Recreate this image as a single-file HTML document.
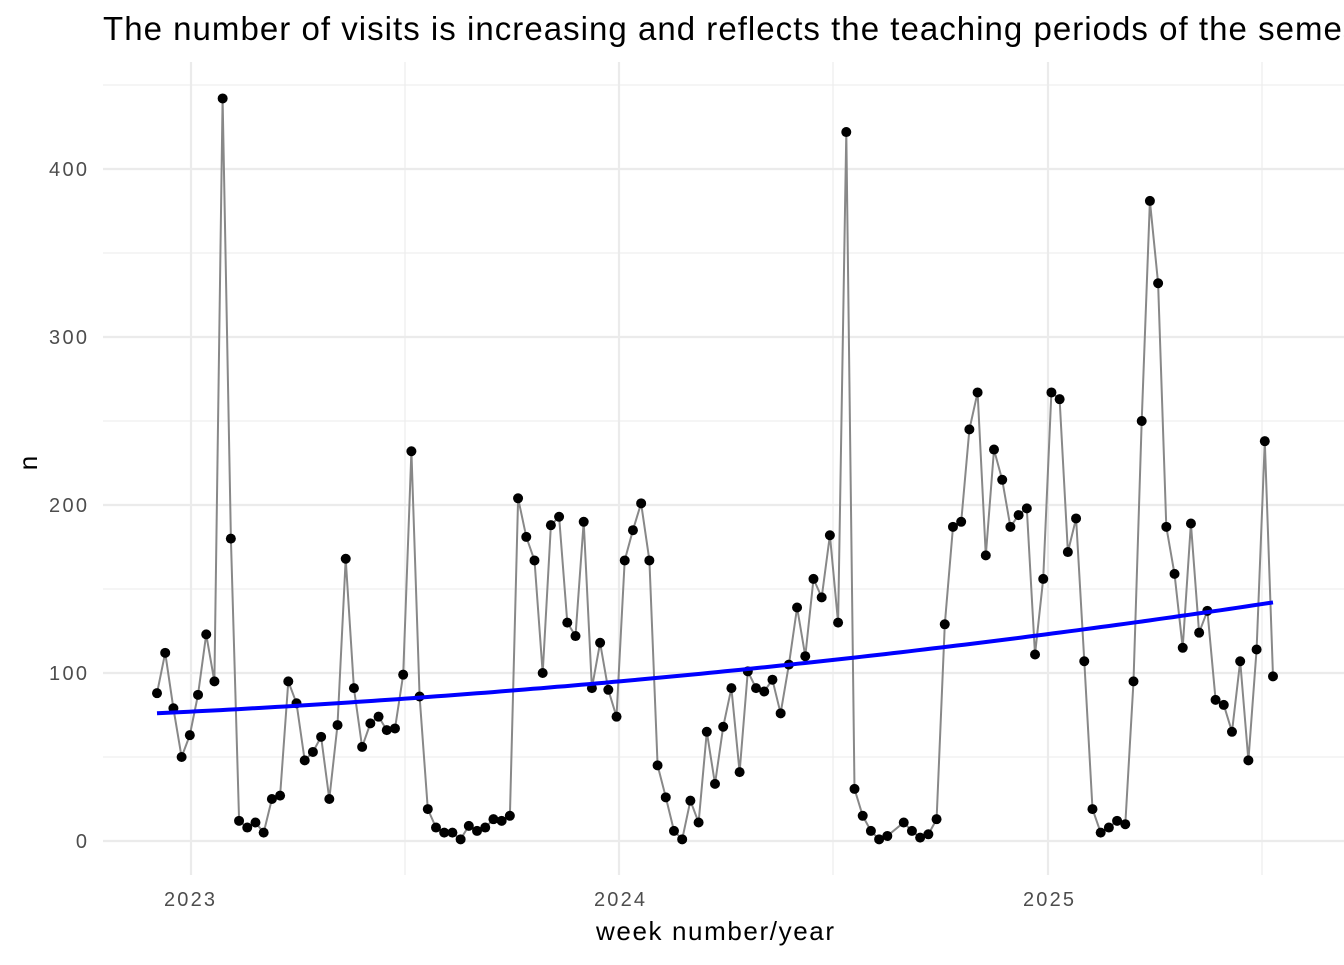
<!DOCTYPE html>
<html><head><meta charset="utf-8"><style>
body{margin:0;background:#fff;width:1344px;height:960px;overflow:hidden}
</style></head><body>
<svg id="s" width="1344" height="960" xmlns="http://www.w3.org/2000/svg" font-family="Liberation Sans, sans-serif">
<rect width="1344" height="960" fill="#fff"/>
<g id="grid"></g>
<g id="data"></g>
<text x="103" y="40" font-size="33" fill="#000" textLength="1298" lengthAdjust="spacing">The number of visits is increasing and reflects the teaching periods of the semester</text>
<g font-size="20" fill="#4d4d4d" text-anchor="end">
<text x="87" y="848">0</text><text x="87" y="680" textLength="38">100</text><text x="87" y="512" textLength="38">200</text><text x="87" y="344" textLength="38">300</text><text x="87" y="176" textLength="38">400</text>
</g>
<g font-size="20" fill="#4d4d4d">
<text x="164" y="906" textLength="51">2023</text><text x="594" y="906" textLength="51">2024</text><text x="1023" y="906" textLength="51">2025</text>
</g>
<text x="596" y="940" font-size="26" textLength="238">week number/year</text>
<text x="37" y="463" font-size="26" text-anchor="middle" transform="rotate(-90 37 463)">n</text>
</svg>
<script>
var ns="http://www.w3.org/2000/svg";
function el(p,t,a){var e=document.createElementNS(ns,t);for(var k in a)e.setAttribute(k,a[k]);p.appendChild(e);return e;}
var g=document.getElementById("grid");
[85,253,421,589,757].forEach(function(y){el(g,"line",{x1:103,x2:1344,y1:y,y2:y,stroke:"#ebebeb","stroke-width":1.1});});
[405,833,1262].forEach(function(x){el(g,"line",{x1:x,x2:x,y1:62,y2:875,stroke:"#ebebeb","stroke-width":1.1});});
[169,337,505,673,841].forEach(function(y){el(g,"line",{x1:103,x2:1344,y1:y,y2:y,stroke:"#ebebeb","stroke-width":2.2});});
[191,619,1048].forEach(function(x){el(g,"line",{x1:x,x2:x,y1:62,y2:875,stroke:"#ebebeb","stroke-width":2.2});});
var v=[88,112,79,50,63,87,123,95,442,180,12,8,11,5,25,27,95,82,48,53,62,25,69,168,91,56,70,74,66,67,99,232,86,19,8,5,5,1,9,6,8,13,12,15,204,181,167,100,188,193,130,122,190,91,118,90,74,167,185,201,167,45,26,6,1,24,11,65,34,68,91,41,101,91,89,96,76,105,139,110,156,145,182,130,422,31,15,6,1,3,null,11,6,2,4,13,129,187,190,245,267,170,233,215,187,194,198,111,156,267,263,172,192,107,19,5,8,12,10,95,250,381,332,187,159,115,189,124,137,84,81,65,107,48,114,238,98];
var n=v.length,d=document.getElementById("data");
function X(i){return 157+i*1116/(n-1);}function Y(a){return 841-a*1.68;}
var pts=[];v.forEach(function(a,i){if(a!==null)pts.push(X(i).toFixed(1)+","+Y(a).toFixed(1));});
el(d,"polyline",{points:pts.join(" "),fill:"none",stroke:"#888","stroke-width":2});
v.forEach(function(a,i){if(a!==null)el(d,"circle",{cx:X(i),cy:Y(a),r:5,fill:"#000"});});
var x0=157,x1=619,x2=1273,y0=76,y1=95,y2=142;
function T(x){return y0*(x-x1)*(x-x2)/((x0-x1)*(x0-x2))+y1*(x-x0)*(x-x2)/((x1-x0)*(x1-x2))+y2*(x-x0)*(x-x1)/((x2-x0)*(x2-x1));}
var tp=[];for(var x=157;x<=1273;x+=8)tp.push(x+","+Y(T(x)).toFixed(1));tp.push("1273,"+Y(142));
el(d,"polyline",{points:tp.join(" "),fill:"none",stroke:"#0000ff","stroke-width":4});
</script>
</body></html>
